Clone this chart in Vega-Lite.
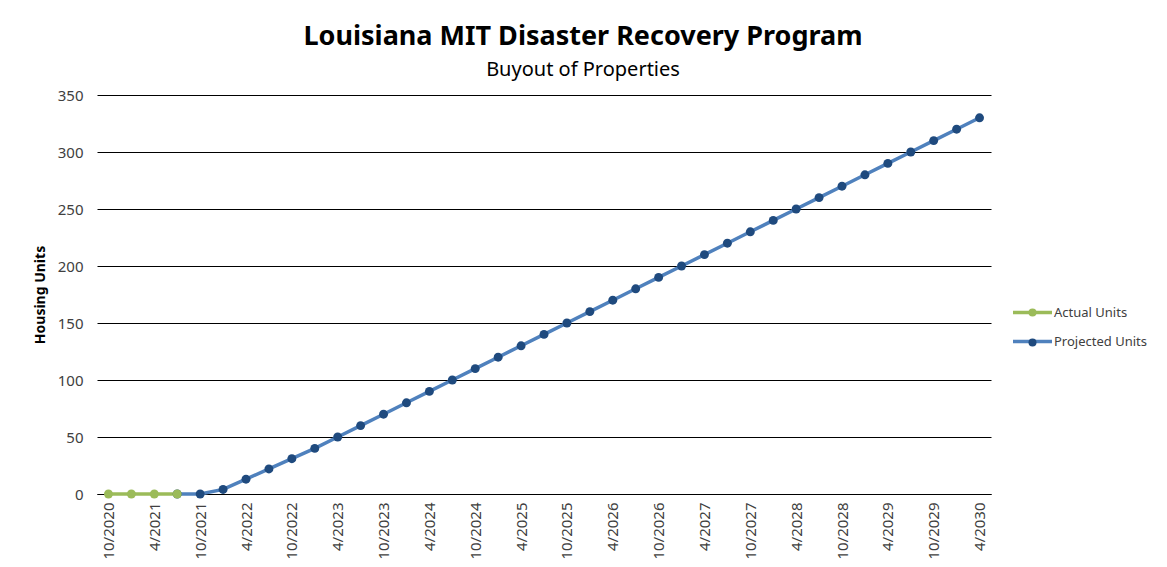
{
  "$schema": "https://vega.github.io/schema/vega-lite/v6.json",
  "width": 894,
  "height": 399,
  "autosize": "none",
  "padding": {"left": 97, "top": 95, "right": 176, "bottom": 73},
  "background": "white",
  "title": {
    "text": "Louisiana MIT Disaster Recovery Program",
    "subtitle": "Buyout of Properties",
    "anchor": "middle",
    "dx": 39,
    "font": "Noto Sans",
    "fontSize": 27,
    "fontWeight": "bold",
    "color": "#000000",
    "subtitleFont": "Noto Sans",
    "subtitleFontSize": 20,
    "subtitleColor": "#000000",
    "subtitlePadding": 9,
    "offset": 7
  },
  "config": {
    "view": {"stroke": null},
    "font": "Noto Sans"
  },
  "data": {
    "values": [
      {"q": "7/2021", "s": "Projected Units", "p": "Projected Units", "v": 0, "i": 3},
      {"q": "10/2021", "s": "Projected Units", "p": "Projected Units", "v": 0, "i": 4},
      {"q": "1/2022", "s": "Projected Units", "p": "Projected Units", "v": 4, "i": 5},
      {"q": "4/2022", "s": "Projected Units", "p": "Projected Units", "v": 13, "i": 6},
      {"q": "7/2022", "s": "Projected Units", "p": "Projected Units", "v": 22, "i": 7},
      {"q": "10/2022", "s": "Projected Units", "p": "Projected Units", "v": 31, "i": 8},
      {"q": "1/2023", "s": "Projected Units", "p": "Projected Units", "v": 40, "i": 9},
      {"q": "4/2023", "s": "Projected Units", "p": "Projected Units", "v": 50, "i": 10},
      {"q": "7/2023", "s": "Projected Units", "p": "Projected Units", "v": 60, "i": 11},
      {"q": "10/2023", "s": "Projected Units", "p": "Projected Units", "v": 70, "i": 12},
      {"q": "1/2024", "s": "Projected Units", "p": "Projected Units", "v": 80, "i": 13},
      {"q": "4/2024", "s": "Projected Units", "p": "Projected Units", "v": 90, "i": 14},
      {"q": "7/2024", "s": "Projected Units", "p": "Projected Units", "v": 100, "i": 15},
      {"q": "10/2024", "s": "Projected Units", "p": "Projected Units", "v": 110, "i": 16},
      {"q": "1/2025", "s": "Projected Units", "p": "Projected Units", "v": 120, "i": 17},
      {"q": "4/2025", "s": "Projected Units", "p": "Projected Units", "v": 130, "i": 18},
      {"q": "7/2025", "s": "Projected Units", "p": "Projected Units", "v": 140, "i": 19},
      {"q": "10/2025", "s": "Projected Units", "p": "Projected Units", "v": 150, "i": 20},
      {"q": "1/2026", "s": "Projected Units", "p": "Projected Units", "v": 160, "i": 21},
      {"q": "4/2026", "s": "Projected Units", "p": "Projected Units", "v": 170, "i": 22},
      {"q": "7/2026", "s": "Projected Units", "p": "Projected Units", "v": 180, "i": 23},
      {"q": "10/2026", "s": "Projected Units", "p": "Projected Units", "v": 190, "i": 24},
      {"q": "1/2027", "s": "Projected Units", "p": "Projected Units", "v": 200, "i": 25},
      {"q": "4/2027", "s": "Projected Units", "p": "Projected Units", "v": 210, "i": 26},
      {"q": "7/2027", "s": "Projected Units", "p": "Projected Units", "v": 220, "i": 27},
      {"q": "10/2027", "s": "Projected Units", "p": "Projected Units", "v": 230, "i": 28},
      {"q": "1/2028", "s": "Projected Units", "p": "Projected Units", "v": 240, "i": 29},
      {"q": "4/2028", "s": "Projected Units", "p": "Projected Units", "v": 250, "i": 30},
      {"q": "7/2028", "s": "Projected Units", "p": "Projected Units", "v": 260, "i": 31},
      {"q": "10/2028", "s": "Projected Units", "p": "Projected Units", "v": 270, "i": 32},
      {"q": "1/2029", "s": "Projected Units", "p": "Projected Units", "v": 280, "i": 33},
      {"q": "4/2029", "s": "Projected Units", "p": "Projected Units", "v": 290, "i": 34},
      {"q": "7/2029", "s": "Projected Units", "p": "Projected Units", "v": 300, "i": 35},
      {"q": "10/2029", "s": "Projected Units", "p": "Projected Units", "v": 310, "i": 36},
      {"q": "1/2030", "s": "Projected Units", "p": "Projected Units", "v": 320, "i": 37},
      {"q": "4/2030", "s": "Projected Units", "p": "Projected Units", "v": 330, "i": 38},
      {"q": "10/2020", "s": "Actual Units", "p": "Actual Units", "v": 0, "i": 0},
      {"q": "1/2021", "s": "Actual Units", "p": "Actual Units", "v": 0, "i": 1},
      {"q": "4/2021", "s": "Actual Units", "p": "Actual Units", "v": 0, "i": 2},
      {"q": "7/2021", "s": "Actual Units", "p": "Actual Units", "v": 0, "i": 3}
    ]
  },
  "encoding": {
    "x": {
      "field": "q",
      "type": "ordinal",
      "sort": {"field": "i", "op": "min"},
      "scale": {"type": "point", "padding": 0.5},
      "axis": {
        "title": null,
        "values": ["10/2020","4/2021","10/2021","4/2022","10/2022","4/2023","10/2023","4/2024","10/2024","4/2025","10/2025","4/2026","10/2026","4/2027","10/2027","4/2028","10/2028","4/2029","10/2029","4/2030"],
        "labelAngle": -90,
        "labelFontSize": 15,
        "labelColor": "#404040",
        "labelPadding": 8,
        "ticks": false,
        "domain": true,
        "domainColor": "#000000",
        "grid": false
      }
    },
    "y": {
      "field": "v",
      "type": "quantitative",
      "scale": {"domain": [0, 350]},
      "axis": {
        "title": "Housing Units",
        "titleFontSize": 14,
        "titleFontWeight": "bold",
        "titleColor": "#000000",
        "titlePadding": 10,
        "values": [0, 50, 100, 150, 200, 250, 300, 350],
        "labelFontSize": 15,
        "labelColor": "#404040",
        "labelPadding": 14,
        "ticks": false,
        "domain": false,
        "grid": true,
        "gridColor": "#000000",
        "gridWidth": 1,
        "gridOpacity": 1
      }
    },
    "order": {"field": "i", "type": "quantitative"}
  },
  "layer": [
    {
      "mark": {"type": "line", "strokeWidth": 3.5},
      "encoding": {
        "stroke": {
          "field": "s",
          "type": "nominal",
          "scale": {"domain": ["Actual Units", "Projected Units"], "range": ["#9BBB59", "#4F81BD"]},
          "legend": {
            "title": null,
            "orient": "none",
            "legendX": 914,
            "legendY": 196,
            "symbolType": "M-1,0L1,0",
            "symbolSize": 1521,
            "symbolStrokeWidth": 3.5,
            "labelFontSize": 13,
            "labelColor": "#404040",
            "labelOffset": 0,
            "rowPadding": -10
          }
        }
      }
    },
    {
      "mark": {"type": "point", "filled": true, "size": 80, "opacity": 1},
      "encoding": {
        "fill": {
          "field": "p",
          "type": "nominal",
          "scale": {"range": ["#9BBB59", "#1F4A7E"]},
          "legend": {
            "title": null,
            "orient": "none",
            "legendX": 929,
            "legendY": 211,
            "symbolType": "circle",
            "symbolSize": 64,
            "symbolStrokeWidth": 0,
            "labelExpr": "''",
            "labelFontSize": 13,
            "rowPadding": 16
          }
        }
      }
    }
  ]
}
